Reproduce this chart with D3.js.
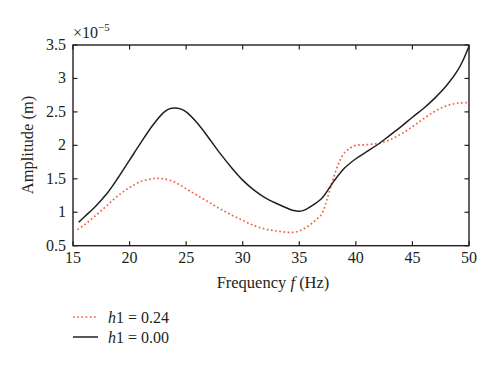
<!DOCTYPE html>
<html><head><meta charset="utf-8">
<script src="https://cdn.jsdelivr.net/npm/d3@7"></script>
<style>body{margin:0;background:#fff}svg{display:block}text{font-family:"Liberation Serif","DejaVu Serif",serif;fill:#231f20}</style>
</head><body><svg id="c" width="500" height="366"></svg>
<script>
const xTicks = [15,20,25,30,35,40,45,50];
const yTicks = [0.5,1,1.5,2,2.5,3,3.5];
const yTickLabels = ["0.5","1","1.5","2","2.5","3","3.5"];
const blackF = [15.5,16,17,18,19,20,21,22,23,23.5,24,24.5,25,26,27,28,29,30,31,32,33,34,34.5,35,35.5,36,37,38,39,40,41,42,43,44,45,46,47,48,49,49.5,50];
const blackV = [0.85,0.93,1.09,1.28,1.52,1.78,2.04,2.29,2.49,2.545,2.56,2.545,2.50,2.33,2.11,1.88,1.67,1.48,1.33,1.215,1.13,1.055,1.025,1.015,1.035,1.085,1.21,1.45,1.66,1.80,1.91,2.02,2.15,2.28,2.42,2.555,2.71,2.89,3.12,3.28,3.48];
const redF = [15.4,16,17,18,19,20,21,22,22.5,23,24,25,26,27,28,29,30,31,32,33,34,34.5,35,35.5,36,36.5,37,37.5,38,38.5,39,39.5,40,41,42,43,44,45,46,47,48,49,50];
const redV = [0.74,0.81,0.95,1.10,1.25,1.37,1.46,1.50,1.505,1.50,1.45,1.35,1.25,1.15,1.05,0.96,0.88,0.80,0.75,0.72,0.70,0.70,0.72,0.76,0.82,0.89,0.98,1.22,1.50,1.74,1.89,1.96,2.0,2.01,2.03,2.08,2.17,2.28,2.40,2.51,2.59,2.63,2.64];
const legendLabels = ["0.24","0.00"];

const svg = d3.select("#c");
const L=73,R=469,T=45,B=245.7;
const x = d3.scaleLinear().domain([15,50]).range([L,R]);
const y = d3.scaleLinear().domain([0.5,3.5]).range([B,T]);
const g = svg.append("g");
const tl = 4.5;
const ink = "#231f20";
g.append("rect").attr("x",L).attr("y",T).attr("width",R-L).attr("height",B-T)
 .attr("fill","none").attr("stroke",ink).attr("stroke-width",1.4);
xTicks.forEach(t=>{
  g.append("line").attr("x1",x(t)).attr("x2",x(t)).attr("y1",B).attr("y2",B-tl).attr("stroke",ink).attr("stroke-width",1.2);
  g.append("line").attr("x1",x(t)).attr("x2",x(t)).attr("y1",T).attr("y2",T+tl).attr("stroke",ink).attr("stroke-width",1.2);
  g.append("text").attr("x",x(t)).attr("y",B+17.5).attr("text-anchor","middle").attr("font-size",16).text(t);
});
yTicks.forEach((t,i)=>{
  g.append("line").attr("x1",L).attr("x2",L+tl).attr("y1",y(t)).attr("y2",y(t)).attr("stroke",ink).attr("stroke-width",1.2);
  g.append("line").attr("x1",R).attr("x2",R-tl).attr("y1",y(t)).attr("y2",y(t)).attr("stroke",ink).attr("stroke-width",1.2);
  g.append("text").attr("x",L-7).attr("y",y(t)+5).attr("text-anchor","end").attr("font-size",16).text(yTickLabels[i]);
});
const ex = g.append("text").attr("x",L).attr("y",T-7).attr("font-size",16);
ex.append("tspan").text("×10");
ex.append("tspan").attr("dy",-7).attr("font-size",11).text("−5");
const xt = g.append("text").attr("x",273).attr("y",288).attr("text-anchor","middle").attr("font-size",16.5);
xt.append("tspan").text("Frequency ");
xt.append("tspan").attr("font-style","italic").text("f");
xt.append("tspan").text(" (Hz)");
g.append("text").attr("transform","translate(33,145) rotate(-90)").attr("text-anchor","middle").attr("font-size",16.5).text("Amplitude (m)");
const line = d3.line().x(d=>x(d[0])).y(d=>y(d[1])).curve(d3.curveCatmullRom.alpha(0.5));
const red = "#f4603f";
g.append("path").datum(redF.map((f,i)=>[f,redV[i]])).attr("d",line).attr("fill","none")
 .attr("stroke",red).attr("stroke-width",1.7).attr("stroke-dasharray","1.7,2.5");
g.append("path").datum(blackF.map((f,i)=>[f,blackV[i]])).attr("d",line).attr("fill","none")
 .attr("stroke",ink).attr("stroke-width",1.5);
const lg = svg.append("g");
[{c:red,d:"1.7,2.5",yy:317,w:1.7},{c:ink,d:null,yy:337,w:1.5}].forEach((s,i)=>{
  lg.append("line").attr("x1",73).attr("x2",98).attr("y1",s.yy).attr("y2",s.yy)
    .attr("stroke",s.c).attr("stroke-width",s.w).attr("stroke-dasharray",s.d);
  const t = lg.append("text").attr("x",108).attr("y",s.yy+5.5).attr("font-size",16);
  t.append("tspan").attr("font-style","italic").text("h");
  t.append("tspan").text("1 = "+legendLabels[i]);
});
</script></body></html>
